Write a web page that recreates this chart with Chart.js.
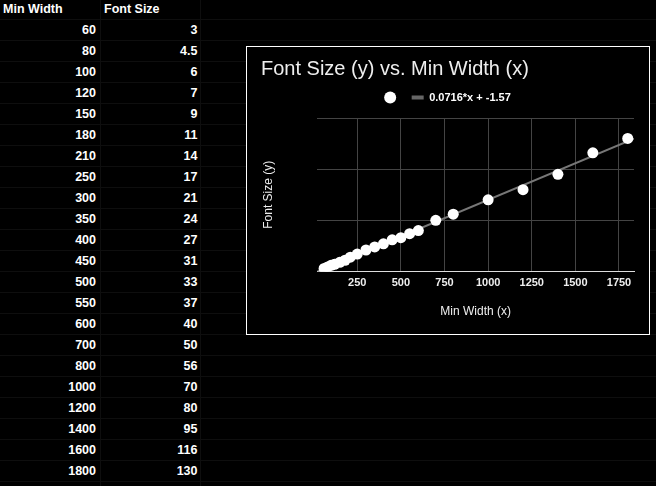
<!DOCTYPE html>
<html>
<head>
<meta charset="utf-8">
<script src="https://cdn.jsdelivr.net/npm/chart.js@4.4.1/dist/chart.umd.min.js"></script>
<style>
html,body{margin:0;padding:0;background:#000;width:656px;height:486px;overflow:hidden;font-family:"Liberation Sans",Arial,sans-serif;}
#sheet{position:absolute;left:0;top:0;width:656px;height:486px;}
.vl{position:absolute;top:0;width:1px;height:486px;background:#0e0e0e;}
.hl{position:absolute;left:0;width:656px;height:1px;background:#0e0e0e;}
.cell{position:absolute;height:20px;line-height:20px;color:#fff;font-size:12.5px;font-weight:bold;white-space:nowrap;}
#box{position:absolute;left:246px;top:46px;width:402px;height:287px;border:1px solid #fff;background:#000;}
#box canvas{display:block;}
</style>
</head>
<body>
<div id="sheet"></div>
<div id="box"><canvas id="c" width="402" height="287"></canvas></div>
<script>
// ---- data ----
const headers = ['Min Width', 'Font Size'];
const minWidth = [60, 80, 100, 120, 150, 180, 210, 250, 300, 350, 400, 450, 500, 550, 600, 700, 800, 1000, 1200, 1400, 1600, 1800];
const fontSize = [3, 4.5, 6, 7, 9, 11, 14, 17, 21, 24, 27, 31, 33, 37, 40, 50, 56, 70, 80, 95, 116, 130];
const xTickValues = [250, 500, 750, 1000, 1250, 1500, 1750];
const xTickLabels = ['250', '500', '750', '1000', '1250', '1500', '1750'];
const yTickValues = [0, 50, 100, 150];
const trendSlope = 0.0716;
const trendIntercept = -1.57;
const trendLabel = '0.0716*x + -1.57';
const chartTitle = 'Font Size (y) vs. Min Width (x)';
const xTitle = 'Min Width (x)';
const yTitle = 'Font Size (y)';
const xRange = [21, 1836];
const yRange = [0, 150];

// ---- spreadsheet cells ----
const sheet = document.getElementById('sheet');
[100, 200].forEach(x => { const d = document.createElement('div'); d.className = 'vl'; d.style.left = x + 'px'; sheet.appendChild(d); });
for (let r = 0; r <= 23; r++) { const d = document.createElement('div'); d.className = 'hl'; d.style.top = (19 + 21 * r) + 'px'; sheet.appendChild(d); }
function cell(text, left, width, row, align) {
  const d = document.createElement('div');
  d.className = 'cell';
  d.textContent = text;
  d.style.left = left + 'px';
  d.style.width = width + 'px';
  d.style.top = (-1.5 + 21 * row) + 'px';
  d.style.textAlign = align;
  sheet.appendChild(d);
}
cell(headers[0], 3, 95, 0, 'left');
cell(headers[1], 104, 95, 0, 'left');
minWidth.forEach((v, i) => {
  cell(String(v), 0, 96, i + 1, 'right');
  cell(String(fontSize[i]), 101, 96.5, i + 1, 'right');
});

// ---- chart ----
const F = '"Liberation Sans", Arial, sans-serif';
const points = minWidth.map((x, i) => ({ x: x, y: fontSize[i] }));
const trend = xRange.map(x => ({ x: x, y: trendSlope * x + trendIntercept }));

new Chart(document.getElementById('c').getContext('2d'), {
  type: 'scatter',
  data: {
    datasets: [
      { label: 'Font Size', data: points, backgroundColor: '#fff', borderColor: '#fff', borderWidth: 0,
        pointRadius: 5.5, pointHoverRadius: 5.5, order: 0, xAxisID: 'x', yAxisID: 'y' },
      { label: trendLabel, data: trend, showLine: true, borderColor: '#777', borderWidth: 2,
        pointRadius: 0, pointHoverRadius: 0, order: 1, xAxisID: 'x', yAxisID: 'y' }
    ]
  },
  options: {
    responsive: false, animation: false, devicePixelRatio: 1, events: [],
    layout: { padding: { left: 14, right: 15, top: 0, bottom: 0 } },
    plugins: {
      title: { display: true, text: chartTitle, align: 'start', color: '#eee',
        font: { family: F, size: 20, weight: 'normal', lineHeight: 1.2 }, padding: { top: 10.2, bottom: 0.8 } },
      legend: { display: true, position: 'top', align: 'center',
        labels: { usePointStyle: true, pointStyleWidth: 12, boxHeight: 8.5, padding: 10, color: '#fff',
          font: { family: F, size: 11, weight: 'bold' },
          generateLabels: () => [
            { text: '', fillStyle: '#fff', strokeStyle: '#fff', lineWidth: 0, pointStyle: 'circle', hidden: false, datasetIndex: 0, fontColor: '#fff' },
            { text: trendLabel, fillStyle: '#666', strokeStyle: '#666', lineWidth: 4, pointStyle: 'line', hidden: false, datasetIndex: 1, fontColor: '#fff' }
          ] } },
      tooltip: { enabled: false }
    },
    scales: {
      x: { type: 'linear', position: 'bottom', min: xRange[0], max: xRange[1],
        afterBuildTicks: s => { s.ticks = xTickValues.map(v => ({ value: v })); },
        afterFit: s => { s.height = 62.5; },
        grid: { color: '#444', lineWidth: 1, drawTicks: false },
        border: { display: true, color: '#ddd', width: 1 },
        ticks: { color: '#eee', font: { family: F, size: 11, weight: 'bold' }, padding: 4.5, maxRotation: 0, autoSkip: false,
          callback: (v, i) => xTickLabels[i] },
        title: { display: true, text: xTitle, color: '#eee', font: { family: F, size: 12, weight: 'normal' }, padding: { top: 0, bottom: 14.8 } } },
      xTop: { type: 'linear', position: 'top', display: true,
        afterFit: s => { s.height = 5; },
        grid: { display: false, drawTicks: false }, border: { display: false }, ticks: { display: false } },
      y: { type: 'linear', position: 'left', min: yRange[0], max: yRange[1],
        afterBuildTicks: s => { s.ticks = yTickValues.map(v => ({ value: v })); },
        afterFit: s => { s.width = 56.3; },
        grid: { color: c => (c.tick && c.tick.value === 0) ? 'rgba(0,0,0,0)' : '#444', lineWidth: 1, drawTicks: false },
        border: { display: false },
        ticks: { display: false },
        title: { display: true, text: yTitle, color: '#eee', font: { family: F, size: 12, weight: 'normal' }, padding: { top: 0, bottom: 0 } } }
    }
  }
});
</script>
</body>
</html>
